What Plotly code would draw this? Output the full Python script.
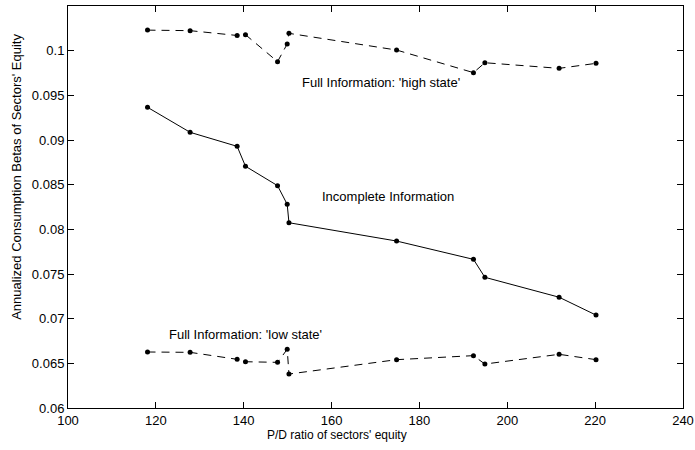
import plotly.graph_objects as go

# P/D ratio of each sector's equity
pd_ratio = [118.1, 127.8, 138.5, 140.4, 147.7, 149.9, 150.3, 174.8, 192.3, 194.9, 211.8, 220.2]

# Annualized consumption betas
beta_high = [0.1023, 0.10224, 0.1017, 0.10179, 0.09877, 0.10075, 0.10194, 0.10007, 0.09754, 0.09865, 0.09802, 0.09858]
beta_incomplete = [0.09366, 0.09086, 0.08929, 0.08706, 0.08489, 0.0828, 0.08074, 0.07869, 0.07664, 0.07463, 0.0724, 0.0704]
beta_low = [0.06627, 0.06623, 0.06545, 0.06518, 0.06511, 0.06657, 0.0638, 0.06541, 0.06586, 0.06492, 0.06601, 0.06541]

x_ticks = [100, 120, 140, 160, 180, 200, 220, 240]
y_ticks = [0.06, 0.065, 0.07, 0.075, 0.08, 0.085, 0.09, 0.095, 0.1, 0.105]
y_tick_text = ["0.06", "0.065", "0.07", "0.075", "0.08", "0.085", "0.09", "0.095", "0.1", "0.105"]

series_labels = ["Full Information: 'high state'", "Incomplete Information", "Full Information: 'low state'"]
label_pos = [(171.2, 0.0964), (172.8, 0.0837), (140.5, 0.0682)]

x_title = "P/D ratio of sectors' equity"
y_title = "Annualized Consumption Betas of Sectors' Equity"

FONT = "Liberation Sans, Arial, Helvetica, sans-serif"
SIZE = 13

fig = go.Figure()
for ys, dash in [(beta_high, "8px,6px"), (beta_incomplete, "solid"), (beta_low, "8px,6px")]:
    fig.add_trace(go.Scatter(
        x=pd_ratio, y=ys, mode="lines+markers",
        line=dict(color="black", width=1, dash=dash),
        marker=dict(color="black", size=5),
        showlegend=False,
    ))

for text, (ax, ay) in zip(series_labels, label_pos):
    fig.add_annotation(x=ax, y=ay, xref="x", yref="y", text=text, showarrow=False,
                       font=dict(family=FONT, size=SIZE, color="black"))

# axis titles placed as free text
fig.add_annotation(x=0.4366, y=-0.067, xref="paper", yref="paper", text=x_title,
                   showarrow=False, xanchor="center", yanchor="middle",
                   font=dict(family=FONT, size=12, color="black"))
fig.add_annotation(x=-0.083, y=0.575, xref="paper", yref="paper", text=y_title,
                   showarrow=False, textangle=-90, xanchor="center", yanchor="middle",
                   font=dict(family=FONT, size=SIZE, color="black"))

axis_common = dict(
    showgrid=False, zeroline=False, showline=True, linecolor="black", linewidth=1,
    mirror="ticks", ticks="inside", ticklen=6, tickcolor="black", tickwidth=1,
    tickfont=dict(family=FONT, size=SIZE, color="black"), automargin=False,
)

fig.update_layout(
    width=695, height=450,
    margin=dict(l=68, r=12, t=6, b=42),
    plot_bgcolor="white", paper_bgcolor="white",
    xaxis=dict(range=[100, 240], tickvals=x_ticks, **axis_common),
    yaxis=dict(range=[0.06, 0.105], tickvals=y_ticks, ticktext=y_tick_text, **axis_common),
)

fig.write_html("out.html")
